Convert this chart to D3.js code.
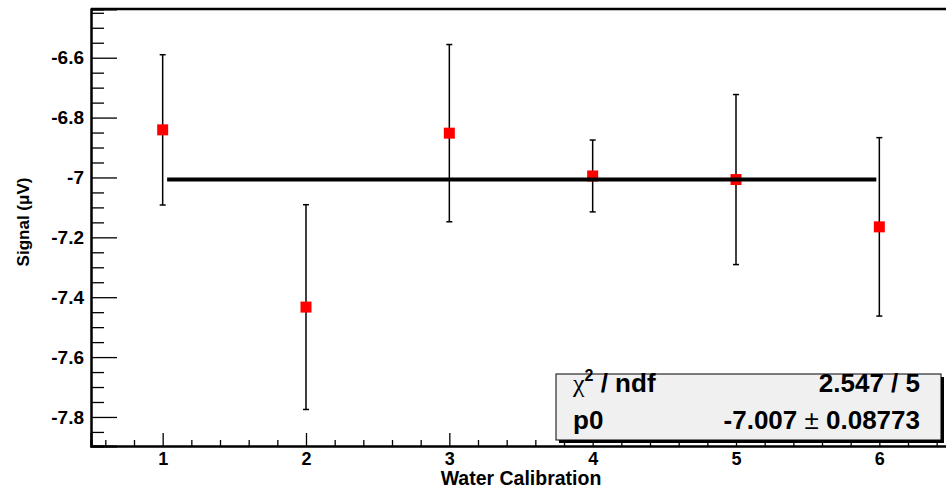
<!DOCTYPE html>
<html>
<head>
<meta charset="utf-8">
<script src="https://cdn.jsdelivr.net/npm/d3@7"></script>
<style>
    body { margin: 0; background: #fff; }
    svg { display: block; font-family: "Liberation Sans", Arial, sans-serif; font-weight: bold; }
</style>
</head>
<body>
<svg id="chart"></svg>
<script>
// data
const runs = [1, 2, 3, 4, 5, 6];
const signal = [-6.841, -7.433, -6.852, -6.995, -7.007, -7.165];
const signalErr = [0.251, 0.342, 0.296, 0.12, 0.284, 0.298];

const fitValue = -7.007;
const fitRange = [1.031, 5.979];

const yTicks = [-7.8, -7.6, -7.4, -7.2, -7, -6.8, -6.6];
const xTicks = [1, 2, 3, 4, 5, 6];

const statsRows = [
    { name: 'ndf', value: '2.547 / 5' },
    { name: 'p0', value: '-7.007', err: '0.08773' }];

// chart code
const width = 946;
const height = 495;
const margin = { top: 9, right: -5, bottom: 49, left: 91 };
const font = '"Liberation Sans", Arial, sans-serif';

const svg = d3.select('#chart')
    .attr('width', width)
    .attr('height', height);

const x = d3.scaleLinear()
    .domain([0.5, 6.5])
    .range([margin.left, width - margin.right]);

const y = d3.scaleLinear()
    .domain([-7.897, -6.4373])
    .range([height - margin.bottom, margin.top]);

// minor ticks
const yMinor = d3.range(-7.85, -6.44, 0.05).filter(v => !yTicks.some(t => Math.abs(t - v) < 1e-6));
const xMinor = d3.range(0.6, 6.5, 0.2).filter(v => !xTicks.some(t => Math.abs(t - v) < 1e-6));

svg.append('g')
    .attr('transform', `translate(${margin.left},0)`)
    .call(d3.axisRight(y).tickValues(yMinor).tickSize(13).tickFormat(''));

svg.append('g')
    .attr('transform', `translate(${margin.left},0)`)
    .call(d3.axisRight(y).tickValues(yTicks).tickSize(26).tickFormat(''));

svg.append('g')
    .attr('transform', `translate(${margin.left},0)`)
    .call(d3.axisLeft(y).tickValues(yTicks).tickSize(0).tickPadding(7).tickFormat(d => String(d)))
    .call(g => g.select('.domain').remove())
    .selectAll('text')
    .attr('font-family', font)
    .attr('font-size', 19)
    .attr('font-weight', 'bold')
    .attr('fill', '#000');

const xBase = height - margin.bottom;

svg.append('g')
    .attr('transform', `translate(0,${xBase})`)
    .call(d3.axisTop(x).tickValues(xMinor).tickSize(6).tickFormat(''));

svg.append('g')
    .attr('transform', `translate(0,${xBase})`)
    .call(d3.axisTop(x).tickValues(xTicks).tickSize(13).tickFormat(''));

svg.append('g')
    .attr('transform', `translate(0,${xBase})`)
    .call(d3.axisBottom(x).tickValues(xTicks).tickSize(0).tickPadding(6).tickFormat(d => String(d)))
    .call(g => g.select('.domain').remove())
    .selectAll('text')
    .attr('font-family', font)
    .attr('font-size', 18)
    .attr('font-weight', 'bold')
    .attr('fill', '#000');

svg.selectAll('.domain').attr('stroke', '#000').attr('stroke-width', 2);
svg.selectAll('.tick line').attr('stroke', '#000').attr('stroke-width', 1.3);

// frame top
svg.append('line')
    .attr('x1', margin.left).attr('x2', width)
    .attr('y1', margin.top).attr('y2', margin.top)
    .attr('stroke', '#000').attr('stroke-width', 2.5);

// axis titles
svg.append('text')
    .attr('x', 521)
    .attr('y', 485)
    .attr('text-anchor', 'middle')
    .attr('font-size', 19.5)
    .text('Water Calibration');

svg.append('text')
    .attr('transform', `translate(29,222) rotate(-90)`)
    .attr('text-anchor', 'middle')
    .attr('font-size', 17)
    .text('Signal (μV)');

// error bars
const points = runs.map((r, i) => ({ x: r, y: signal[i], e: signalErr[i] }));

const bars = svg.append('g');

bars.selectAll('line.err')
    .data(points)
    .enter()
    .append('line')
    .attr('class', 'err')
    .attr('x1', d => x(d.x)).attr('x2', d => x(d.x))
    .attr('y1', d => y(d.y + d.e)).attr('y2', d => y(d.y - d.e))
    .attr('stroke', '#000').attr('stroke-width', 1.5);

bars.selectAll('line.capTop')
    .data(points)
    .enter()
    .append('line')
    .attr('x1', d => x(d.x) - 3).attr('x2', d => x(d.x) + 3)
    .attr('y1', d => y(d.y + d.e)).attr('y2', d => y(d.y + d.e))
    .attr('stroke', '#000').attr('stroke-width', 1.5);

bars.selectAll('line.capBot')
    .data(points)
    .enter()
    .append('line')
    .attr('x1', d => x(d.x) - 3).attr('x2', d => x(d.x) + 3)
    .attr('y1', d => y(d.y - d.e)).attr('y2', d => y(d.y - d.e))
    .attr('stroke', '#000').attr('stroke-width', 1.5);

// markers
const size = 11;
svg.selectAll('rect.marker')
    .data(points)
    .enter()
    .append('rect')
    .attr('class', 'marker')
    .attr('x', d => x(d.x) - size / 2)
    .attr('y', d => y(d.y) - size / 2)
    .attr('width', size)
    .attr('height', size)
    .attr('fill', '#ff0000');

// fit line
svg.append('line')
    .attr('x1', x(fitRange[0])).attr('x2', x(fitRange[1]))
    .attr('y1', y(fitValue)).attr('y2', y(fitValue))
    .attr('stroke', '#000').attr('stroke-width', 4);

// stats box
const box = { x: 556, y: 374, w: 385, h: 66 };

svg.append('rect')
    .attr('x', box.x + 3).attr('y', box.y + 3)
    .attr('width', box.w).attr('height', box.h)
    .attr('fill', '#000');

svg.append('rect')
    .attr('x', box.x).attr('y', box.y)
    .attr('width', box.w).attr('height', box.h)
    .attr('fill', '#f0f0f0')
    .attr('stroke', '#000').attr('stroke-width', 1);

const rowY = [392, 429];
const fs = 26;

const label1 = svg.append('text')
    .attr('x', 573).attr('y', rowY[0])
    .attr('font-size', fs);
label1.append('tspan')
    .attr('font-family', '"Liberation Serif", serif')
    .attr('font-weight', 'normal')
    .text('χ');
label1.append('tspan')
    .attr('font-size', 16)
    .attr('dy', -11)
    .text('2');
label1.append('tspan')
    .attr('dy', 11)
    .text(' / ' + statsRows[0].name);

svg.append('text')
    .attr('x', 920).attr('y', rowY[0])
    .attr('text-anchor', 'end')
    .attr('font-size', fs)
    .text(statsRows[0].value);

svg.append('text')
    .attr('x', 573).attr('y', rowY[1])
    .attr('font-size', fs)
    .text(statsRows[1].name);

const val2 = svg.append('text')
    .attr('x', 920).attr('y', rowY[1])
    .attr('text-anchor', 'end')
    .attr('font-size', fs);
val2.append('tspan').text(statsRows[1].value + ' ');
val2.append('tspan').attr('font-weight', 'normal').text('±');
val2.append('tspan').text(' ' + statsRows[1].err);
</script>
</body>
</html>
